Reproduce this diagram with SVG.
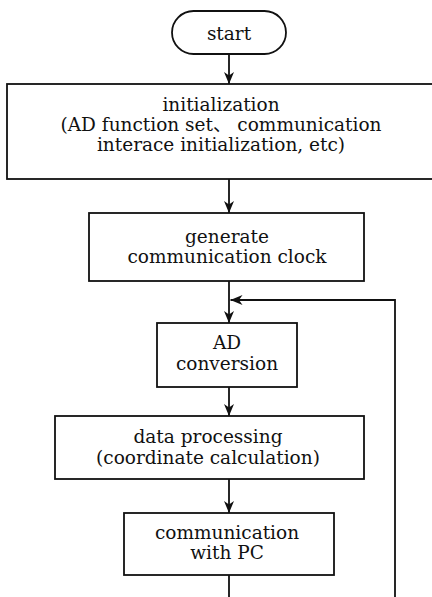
<svg xmlns="http://www.w3.org/2000/svg" width="432" height="597" viewBox="0 0 432 597">
<defs>
<style>
.box{fill:#fff;stroke:#111;stroke-width:1.8}
.t{font-family:"DejaVu Serif","Noto Sans CJK SC",serif;font-size:18.5px;fill:#111;text-anchor:middle}
.c{fill:none;stroke:#111;stroke-width:1.8}
</style>
<marker id="ah" viewBox="0 0 12 10" refX="12" refY="5" markerWidth="12" markerHeight="10" markerUnits="userSpaceOnUse" orient="auto">
<path d="M0,0 L12,5 L0,10 L3.5,5 Z" fill="#111"/>
</marker>
</defs>
<rect width="432" height="597" fill="#fff"/>
<g id="connectors">
<line class="c" x1="229" y1="54" x2="229" y2="84" marker-end="url(#ah)"/>
<line class="c" x1="229" y1="179" x2="229" y2="213" marker-end="url(#ah)"/>
<line class="c" x1="229" y1="281" x2="229" y2="323" marker-end="url(#ah)"/>
<line class="c" x1="229" y1="387" x2="229" y2="416" marker-end="url(#ah)"/>
<line class="c" x1="229" y1="479" x2="229" y2="513" marker-end="url(#ah)"/>
<path class="c" d="M229,575 V610 H395 V300 H230.5" marker-end="url(#ah)"/>
</g>
<g id="start">
<rect class="box" x="172" y="11" width="114" height="43" rx="21.5" ry="21.5"/>
<text class="t" x="229" y="40">start</text>
</g>
<g id="init">
<rect class="box" x="7" y="84" width="432" height="95"/>
<text class="t" x="221" y="111">initialization</text>
<text class="t" x="221" y="131">(AD function set、 communication</text>
<text class="t" x="221" y="151">interace initialization, etc)</text>
</g>
<g id="clock">
<rect class="box" x="89" y="213" width="275" height="68"/>
<text class="t" x="227" y="243">generate</text>
<text class="t" x="227" y="263">communication clock</text>
</g>
<g id="adconv">
<rect class="box" x="157" y="323" width="140" height="64"/>
<text class="t" x="227" y="349">AD</text>
<text class="t" x="227" y="370">conversion</text>
</g>
<g id="dataproc">
<rect class="box" x="55" y="416" width="309" height="63"/>
<text class="t" x="208" y="443">data processing</text>
<text class="t" x="208" y="464">(coordinate calculation)</text>
</g>
<g id="commpc">
<rect class="box" x="124" y="513" width="210" height="62"/>
<text class="t" x="227" y="539">communication</text>
<text class="t" x="227" y="559">with PC</text>
</g>
</svg>
